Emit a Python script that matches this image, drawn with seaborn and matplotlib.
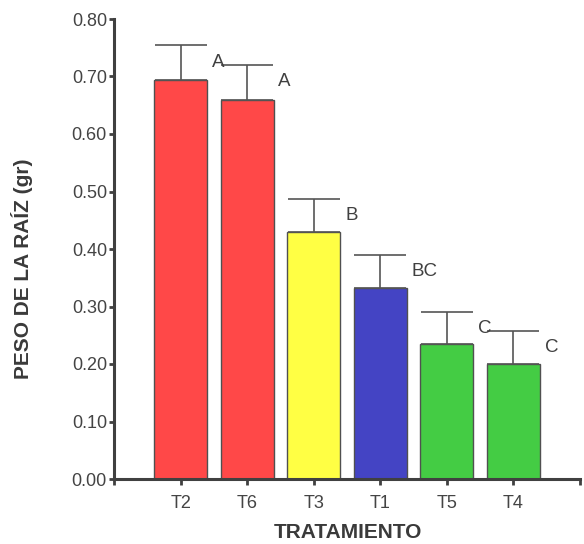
import matplotlib
matplotlib.use("Agg")
import matplotlib.pyplot as plt
import seaborn as sns
import numpy as np

tratamientos = ["T2", "T6", "T3", "T1", "T5", "T4"]
peso = [0.694, 0.660, 0.430, 0.333, 0.234, 0.200]
error = [0.060, 0.060, 0.057, 0.056, 0.056, 0.057]
letras = ["A", "A", "B", "BC", "C", "C"]
colores = ["#FF4848", "#FF4848", "#FFFF44", "#4444C4", "#44CC44", "#44CC44"]

sns.set_theme(style="ticks")
plt.rcParams["font.family"] = ["Liberation Sans", "DejaVu Sans"]

W, H = 584, 544
fig = plt.figure(figsize=(W / 100, H / 100), dpi=100)
ax = fig.add_axes([114 / W, 1 - 479 / H, (580 - 114) / W, (479 - 19) / H])

sns.barplot(x=tratamientos, y=peso, hue=tratamientos, palette=colores,
            legend=False, width=0.8, edgecolor="#505050", linewidth=1.0,
            saturation=1, errorbar=None, ax=ax, zorder=2)

xs = np.arange(len(tratamientos))
ax.errorbar(xs, peso, yerr=[np.zeros(len(peso)), error], fmt="none",
            ecolor="#555555", elinewidth=1.2, capsize=19, capthick=1.2, zorder=3)

for i, (v, e, l) in enumerate(zip(peso, error, letras)):
    ax.text(i + 0.47, v + e - 0.029, l, ha="left", va="center",
            fontsize=13.5, color="#404040")

ax.set_xlim(-1, 6)
ax.set_ylim(0, 0.8)
ax.set_yticks(np.arange(0, 0.81, 0.1))
ax.set_yticklabels([f"{t:.2f}" for t in np.arange(0, 0.81, 0.1)])
ax.set_xticks(list(range(-1, 7)))
ax.set_xticklabels([""] + tratamientos + [""])
ax.set_xlabel("")
ax.set_ylabel("")

for s in ["top", "right"]:
    ax.spines[s].set_visible(False)
for s in ["left", "bottom"]:
    ax.spines[s].set_linewidth(2.2)
    ax.spines[s].set_color("#404040")
    ax.spines[s].set_zorder(4)

ax.tick_params(axis="y", direction="out", length=3.6, width=2, color="#404040",
               labelsize=13, labelcolor="#444444", pad=1.5)
ax.tick_params(axis="x", direction="out", length=4.5, width=2, color="#404040",
               labelsize=13, labelcolor="#444444", pad=7)

fig.text(22 / W, 1 - 269 / H, "PESO DE LA RAÍZ (gr)", rotation=90, ha="center",
         va="center", fontsize=15, fontweight="bold", color="#3a3a3a")
fig.text(348 / W, 1 - 532 / H, "TRATAMIENTO", ha="center", va="center",
         fontsize=15, fontweight="bold", color="#3a3a3a")

fig.savefig("out.png", dpi=100)
